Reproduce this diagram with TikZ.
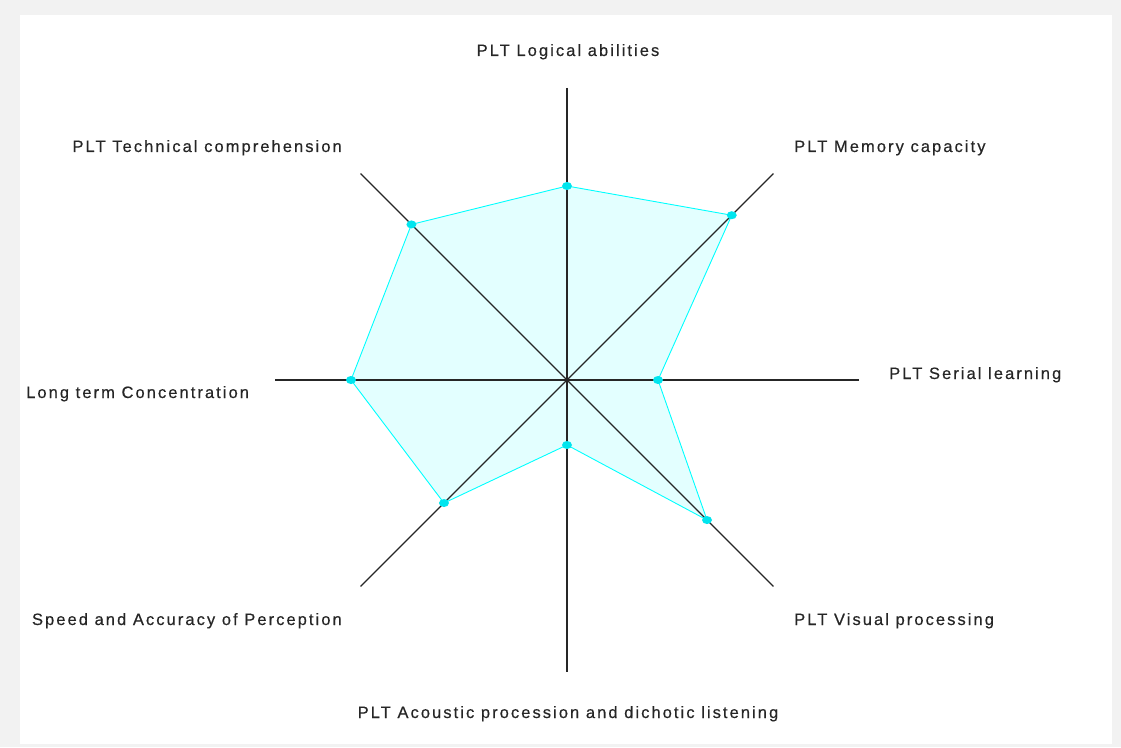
\documentclass[tikz,border=0pt]{standalone}
\usepackage{fontspec}
\setmainfont{Liberation Sans}[LetterSpace=12.5, FakeBold=0.4]
\definecolor{frame}{HTML}{F2F2F2}
\definecolor{webfill}{HTML}{E3FFFF}
\definecolor{webline}{HTML}{00FFFF}
\definecolor{webdot}{HTML}{00E5EE}
\begin{document}
\begin{tikzpicture}[x=1pt,y=1pt,
    axis/.style={line width=1.3pt, black!85},
    web/.style={draw=webline, line width=0.9pt},
    lbl/.style={inner sep=0pt, text=black!85, font=\fontsize{16.5}{19}\selectfont}]
    \def\len{292}

    \def\rlogic{194}
    \def\rmemory{233}
    \def\rserial{91}
    \def\rvisual{198}
    \def\racoustic{65}
    \def\rspeed{174}
    \def\rlongterm{216}
    \def\rtechnical{220}

    \fill[frame] (-567,-367) rectangle (554,380);
    \fill[white] (-547,-364) rectangle (545,365);

    \coordinate (c) at (0,0);
    \coordinate (logic) at (90:\rlogic);
    \coordinate (memory) at (45:\rmemory);
    \coordinate (serial) at (0:\rserial);
    \coordinate (visual) at (-45:\rvisual);
    \coordinate (acoustic) at (-90:\racoustic);
    \coordinate (speed) at (-135:\rspeed);
    \coordinate (longterm) at (180:\rlongterm);
    \coordinate (technical) at (135:\rtechnical);

    \fill[webfill] (logic) -- (memory) -- (serial) -- (visual) -- (acoustic) -- (speed) -- (longterm) -- (technical) -- cycle;

    \foreach \ang in {0,45,90,135} {
        \draw[axis] (\ang:\len) -- (\ang+180:\len);
    }

    \draw[web] (logic) -- (memory) -- (serial) -- (visual) -- (acoustic) -- (speed) -- (longterm) -- (technical) -- cycle;

    \foreach \p in {logic,memory,serial,visual,acoustic,speed,longterm,technical} {
        \fill[webdot] (\p) ellipse [x radius=5, y radius=4];
    }

    \node[lbl, anchor=base] (tlogic) at (1,324) {PLT Logical abilities};
    \node[lbl, anchor=base west] (tmemory) at (227,228) {PLT Memory capacity};
    \node[lbl, anchor=base west] (tserial) at (322,1) {PLT Serial learning};
    \node[lbl, anchor=base west] (tvisual) at (227,-245) {PLT Visual processing};
    \node[lbl, anchor=base] (tacoustic) at (1,-338) {PLT Acoustic procession and dichotic listening};
    \node[lbl, anchor=base east] (tspeed) at (-225,-245) {Speed and Accuracy of Perception};
    \node[lbl, anchor=base west] (tlongterm) at (-541,-18) {Long term Concentration};
    \node[lbl, anchor=base east] (ttechnical) at (-225,228) {PLT Technical comprehension};
\end{tikzpicture}
\end{document}
